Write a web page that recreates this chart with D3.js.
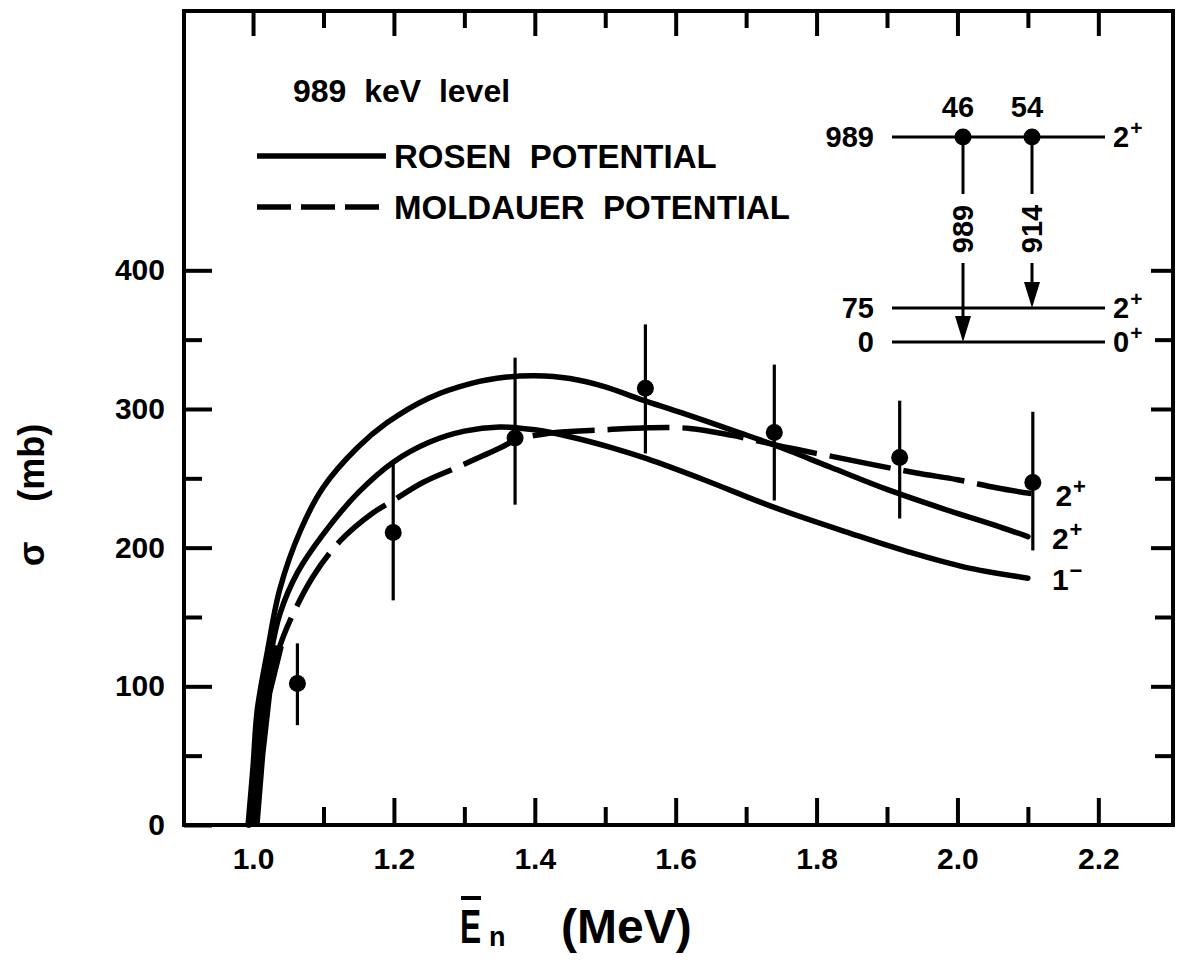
<!DOCTYPE html>
<html>
<head>
<meta charset="utf-8">
<script src="https://cdn.jsdelivr.net/npm/d3@7"></script>
<style>
  html, body { margin: 0; padding: 0; background: #fff; }
  svg { display: block; }
  text { font-family: "Liberation Sans", Arial, sans-serif; font-weight: bold; fill: #000; }
</style>
</head>
<body>
<svg id="chart" width="1184" height="963"></svg>
<script>
// Measured inelastic cross sections for the 989 keV level
const energies = [1.063, 1.199, 1.372, 1.557, 1.740, 1.918, 2.107];
const sigma    = [102, 211, 279, 315, 283, 265, 247];
const errHigh  = [131, 263, 337, 361, 332, 306, 298];
const errLow   = [72, 162, 231, 268, 234, 221, 198];

// Rosen potential, 2+ assignment
const rosen2E = [0.993, 1.000, 1.006, 1.020, 1.038, 1.067, 1.099, 1.148, 1.190, 1.250, 1.310, 1.360, 1.400, 1.450, 1.500, 1.550, 1.610, 1.690, 1.740, 1.820, 1.900, 1.980, 2.060, 2.100];
const rosen2S = [0, 42, 83, 124, 170, 212, 243, 272, 290, 308, 318.5, 323, 324, 322, 316, 307, 297, 283, 274, 258, 242, 228, 215, 208];

// Rosen potential, 1- assignment
const rosen1E = [0.995, 1.005, 1.015, 1.024, 1.038, 1.063, 1.100, 1.150, 1.200, 1.250, 1.300, 1.350, 1.400, 1.450, 1.510, 1.560, 1.640, 1.740, 1.850, 1.930, 2.010, 2.100];
const rosen1S = [0, 50, 90, 120, 152, 182, 210, 240, 262, 276, 284, 287, 285, 280, 272, 264, 249, 229, 210, 197, 186, 178];

// Moldauer potential, 2+ assignment
const moldE = [0.997, 1.010, 1.025, 1.043, 1.085, 1.124, 1.170, 1.199, 1.241, 1.290, 1.351, 1.375, 1.430, 1.500, 1.560, 1.620, 1.680, 1.760, 1.820, 1.940, 2.000, 2.057, 2.105];
const moldS = [0, 60, 105, 136, 179, 205, 225, 234, 247, 258, 272, 278, 283, 285, 286.5, 286, 281, 272, 266, 254, 249, 243, 239];

// Solid ink where the curves merge just above threshold
const wedgeE = [0.991, 1.008, 1.016, 1.026, 1.042, 1.020, 1.008, 1.000];
const wedgeS = [0, 0, 50, 95, 128, 130, 80, 40];

// Axis ticks
const xMajorTicks = [1.0, 1.2, 1.4, 1.6, 1.8, 2.0, 2.2];
const xMinorTicks = [1.1, 1.3, 1.5, 1.7, 1.9, 2.1];
const yMajorTicks = [0, 100, 200, 300, 400];
const yMinorTicks = [50, 150, 250, 350];

// Level scheme inset
const levelNames  = ["989", "75", "0"];
const levelSpins  = [["2", "+"], ["2", "+"], ["0", "+"]];
const gammaLabels = ["989", "914"];
const gammaTo     = ["0", "75"];
const branchings  = ["46", "54"];

const svg = d3.select("#chart");

const x = d3.scaleLinear().domain([0.902, 2.306]).range([184, 1173]);
const y = d3.scaleLinear().domain([0, 587]).range([825, 11]);
const [x0, x1] = x.range();
const [yB, yT] = y.range();

// Axes with inward ticks on all four sides
function styleAxis(g, w) {
  g.select(".domain").remove();
  g.selectAll(".tick line").attr("stroke", "#000").attr("stroke-width", w);
  g.selectAll(".tick text").style("font-size", "30px").style("font-family", '"Liberation Sans", Arial, sans-serif').style("font-weight", "bold");
}
svg.append("g").attr("transform", `translate(0,${yB})`)
  .call(d3.axisBottom(x).tickValues(xMajorTicks).tickSizeInner(-27).tickSizeOuter(0).tickPadding(23).tickFormat(d3.format(".1f")))
  .call(g => styleAxis(g, 4));
svg.append("g").attr("transform", `translate(0,${yB})`)
  .call(d3.axisBottom(x).tickValues(xMinorTicks).tickSizeInner(-18).tickSizeOuter(0).tickFormat(""))
  .call(g => styleAxis(g, 4));
svg.append("g").attr("transform", `translate(0,${yT})`)
  .call(d3.axisTop(x).tickValues(xMajorTicks).tickSizeInner(-25).tickSizeOuter(0).tickFormat(""))
  .call(g => styleAxis(g, 4));
svg.append("g").attr("transform", `translate(0,${yT})`)
  .call(d3.axisTop(x).tickValues(xMinorTicks).tickSizeInner(-17).tickSizeOuter(0).tickFormat(""))
  .call(g => styleAxis(g, 4));
svg.append("g").attr("transform", `translate(${x0},0)`)
  .call(d3.axisLeft(y).tickValues(yMajorTicks).tickSizeInner(-28).tickSizeOuter(0).tickPadding(19))
  .call(g => styleAxis(g, 4));
svg.append("g").attr("transform", `translate(${x0},0)`)
  .call(d3.axisLeft(y).tickValues(yMinorTicks).tickSizeInner(-18).tickSizeOuter(0).tickFormat(""))
  .call(g => styleAxis(g, 4));
svg.append("g").attr("transform", `translate(${x1},0)`)
  .call(d3.axisRight(y).tickValues(yMajorTicks.filter(v => v > 0)).tickSizeInner(-22).tickSizeOuter(0).tickFormat(""))
  .call(g => styleAxis(g, 4));
svg.append("g").attr("transform", `translate(${x1},0)`)
  .call(d3.axisRight(y).tickValues(yMinorTicks).tickSizeInner(-18).tickSizeOuter(0).tickFormat(""))
  .call(g => styleAxis(g, 4));

// Frame
svg.append("rect").attr("x", x0).attr("y", yT).attr("width", x1 - x0).attr("height", yB - yT)
  .attr("fill", "none").attr("stroke", "#000").attr("stroke-width", 4);

// Theory curves
const line = d3.line().x(d => x(d[0])).y(d => y(d[1])).curve(d3.curveCatmullRom.alpha(0.5));
const zip = (a, b) => a.map((v, i) => [v, b[i]]);

svg.append("path").datum(zip(wedgeE, wedgeS))
  .attr("d", d3.line().x(d => x(d[0])).y(d => y(d[1])))
  .attr("fill", "#000").attr("stroke", "#000").attr("stroke-width", 2);

svg.append("path").datum(zip(rosen2E, rosen2S)).attr("d", line)
  .attr("fill", "none").attr("stroke", "#000").attr("stroke-width", 5.5).attr("stroke-linecap", "round");
svg.append("path").datum(zip(rosen1E, rosen1S)).attr("d", line)
  .attr("fill", "none").attr("stroke", "#000").attr("stroke-width", 5.5).attr("stroke-linecap", "round");
svg.append("path").datum(zip(moldE, moldS)).attr("d", line)
  .attr("fill", "none").attr("stroke", "#000").attr("stroke-width", 5.5)
  .attr("stroke-dasharray", "62,13");

// Data points with error bars
const pts = energies.map((e, i) => ({ e, s: sigma[i], hi: errHigh[i], lo: errLow[i] }));
svg.append("g").selectAll("line").data(pts).join("line")
  .attr("x1", d => x(d.e)).attr("x2", d => x(d.e))
  .attr("y1", d => y(d.hi)).attr("y2", d => y(d.lo))
  .attr("stroke", "#000").attr("stroke-width", 3.2);
svg.append("g").selectAll("circle").data(pts).join("circle")
  .attr("cx", d => x(d.e)).attr("cy", d => y(d.s)).attr("r", 8.5).attr("fill", "#000");

// Spin labels at the curve ends
function spinLabel(e, s, main, sup) {
  const t = svg.append("text").attr("x", x(e) + 24).attr("y", y(s) + 12).style("font-size", "30px");
  t.append("tspan").text(main);
  t.append("tspan").attr("dy", -12).attr("dx", 1).style("font-size", "22px").text(sup);
}
spinLabel(moldE[moldE.length - 1], moldS[moldS.length - 1], "2", "+");
spinLabel(rosen2E[rosen2E.length - 1], rosen2S[rosen2S.length - 1], "2", "+");
spinLabel(rosen1E[rosen1E.length - 1], rosen1S[rosen1S.length - 1], "1", "\u2212");

// Legend
svg.append("text").attr("x", 293).attr("y", 102).style("font-size", "32px")
  .style("white-space", "pre").text("989  keV  level");
const legend = [
  { label: "ROSEN  POTENTIAL", dash: null, ly: 156 },
  { label: "MOLDAUER  POTENTIAL", dash: "34,10", ly: 207 }
];
legend.forEach(l => {
  svg.append("line").attr("x1", 257).attr("x2", 386).attr("y1", l.ly).attr("y2", l.ly)
    .attr("stroke", "#000").attr("stroke-width", 5.5).attr("stroke-dasharray", l.dash);
  svg.append("text").attr("x", 394).attr("y", l.ly + 12).style("font-size", "33px")
    .style("white-space", "pre").text(l.label);
});

// Level scheme
const ly = d3.scaleOrdinal().domain(levelNames).range([137, 308, 342]);
const gx = d3.scaleOrdinal().domain(gammaLabels).range([963, 1032]);
const inset = svg.append("g");
levelNames.forEach((n, i) => {
  inset.append("line").attr("x1", 892).attr("x2", 1105).attr("y1", ly(n)).attr("y2", ly(n))
    .attr("stroke", "#000").attr("stroke-width", 3);
  inset.append("text").attr("x", 874).attr("y", ly(n) + 10).attr("text-anchor", "end")
    .style("font-size", "29px").text(n);
  const t = inset.append("text").attr("x", 1113).attr("y", ly(n) + 10).style("font-size", "29px");
  t.append("tspan").text(levelSpins[i][0]);
  t.append("tspan").attr("dy", -12).attr("dx", 1).style("font-size", "21px").text(levelSpins[i][1]);
});
gammaLabels.forEach((g, i) => {
  const gxv = gx(g), top = ly("989"), bot = ly(gammaTo[i]);
  inset.append("circle").attr("cx", gxv).attr("cy", top).attr("r", 8.5).attr("fill", "#000");
  inset.append("text").attr("x", gxv - 5).attr("y", top - 20).attr("text-anchor", "middle")
    .style("font-size", "29px").text(branchings[i]);
  inset.append("line").attr("x1", gxv).attr("x2", gxv).attr("y1", top).attr("y2", 194)
    .attr("stroke", "#000").attr("stroke-width", 3);
  inset.append("line").attr("x1", gxv).attr("x2", gxv).attr("y1", 263).attr("y2", bot - 20)
    .attr("stroke", "#000").attr("stroke-width", 3);
  inset.append("path")
    .attr("d", `M${gxv - 8},${bot - 26} L${gxv + 8},${bot - 26} L${gxv},${bot} Z`)
    .attr("fill", "#000");
  inset.append("text").attr("transform", `translate(${gxv + 10},229) rotate(-90)`)
    .attr("text-anchor", "middle").style("font-size", "29px").text(g);
});

// Axis titles
svg.append("text").attr("transform", "translate(44,495) rotate(-90)")
  .attr("text-anchor", "middle").style("font-size", "36px").style("white-space", "pre")
  .text("\u03c3    (mb)");
// Narrow "E" with an overbar and subscript n
svg.append("text").attr("transform", "translate(460,943) scale(0.66,1)")
  .style("font-size", "48px").text("E");
svg.append("line").attr("x1", 461).attr("x2", 481).attr("y1", 898).attr("y2", 898)
  .attr("stroke", "#000").attr("stroke-width", 4);
svg.append("text").attr("x", 489).attr("y", 946).style("font-size", "27px").text("n");
svg.append("text").attr("x", 561).attr("y", 943).style("font-size", "48px").text("(MeV)");
</script>
</body>
</html>
